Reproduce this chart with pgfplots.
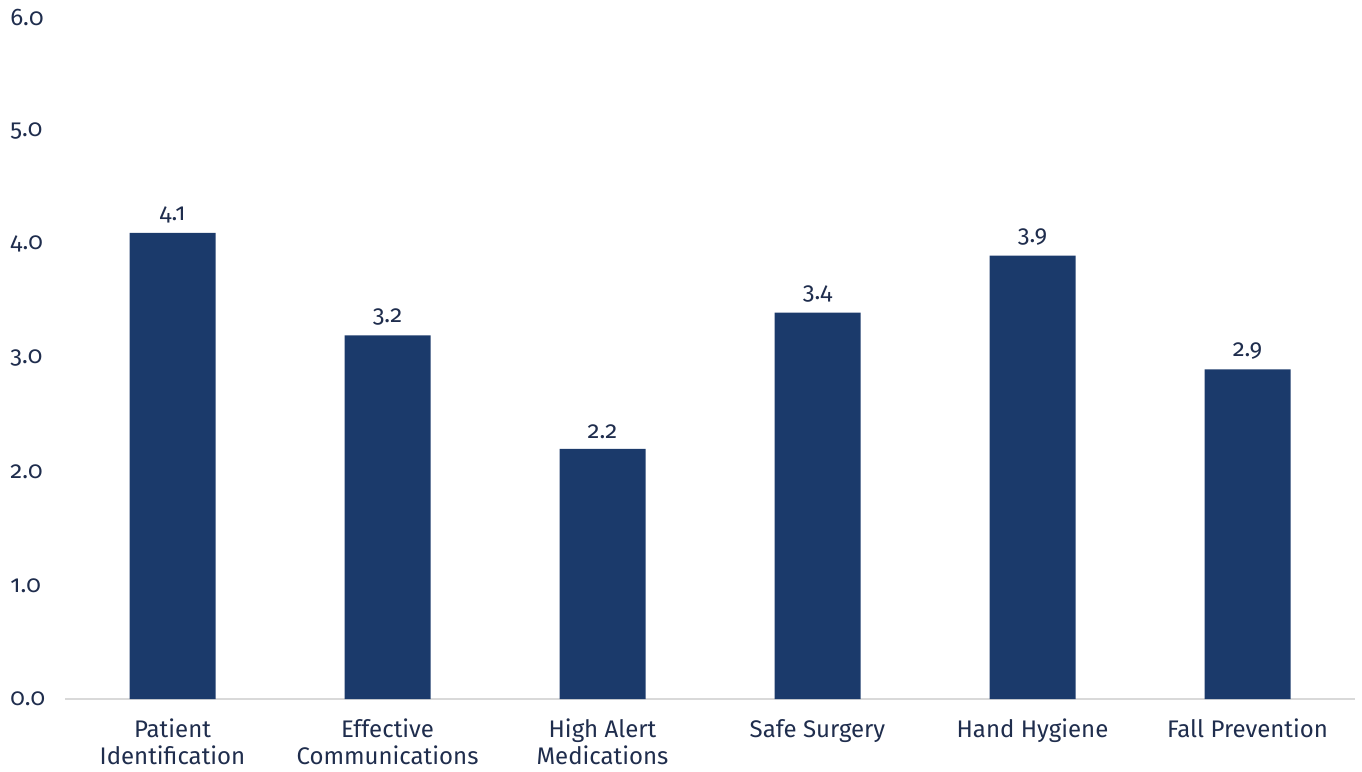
\documentclass[border=0pt]{standalone}
\usepackage{pgfplots}
\pgfplotsset{compat=1.18}
\usepackage{fontspec}
\setmainfont{Fira Sans}[Numbers=OldStyle]
\definecolor{barblue}{HTML}{1B3A6B}
\definecolor{txt}{HTML}{1F2D4D}
\definecolor{axgray}{HTML}{D9D9D9}
\begin{document}
\begin{tikzpicture}
\begin{axis}[
  scale only axis,
  width=645pt, height=341pt,
  xmin=-0.5, xmax=5.5,
  ymin=0, ymax=6,
  ytick={0,1,2,3,4,5,6},
  xtick=data,
  xticklabels={{Patient\\Identification},{Effective\\Communications},{High Alert\\Medications},{Safe Surgery},{Hand Hygiene},{Fall Prevention}},
  x tick label style={align=center, font=\fontsize{12}{13.5}\selectfont, text=txt, anchor=north, yshift=-6.5pt},
  y tick label style={font=\fontsize{12}{13.5}\selectfont, text=txt, anchor=west, inner sep=0pt, xshift=-27.5pt,
    /pgf/number format/fixed, /pgf/number format/fixed zerofill, /pgf/number format/precision=1},
  /pgf/number format/assume math mode=true,
  major tick length=0pt,
  axis x line*=bottom,
  axis y line*=left,
  y axis line style={draw=none},
  x axis line style={draw=axgray, line width=1pt},
  ybar, bar width=43pt,
  nodes near coords,
  nodes near coords style={font=\fontsize{12}{13.5}\selectfont, text=txt, yshift=1.5pt, /pgf/number format/fixed, /pgf/number format/fixed zerofill, /pgf/number format/precision=1, /pgf/number format/assume math mode=true},
  clip=false,
]
\addplot[fill=barblue, draw=none] coordinates {(0,4.1) (1,3.2) (2,2.2) (3,3.4) (4,3.9) (5,2.9)};
\coordinate (bl) at (rel axis cs:0,0);
\coordinate (tr) at (rel axis cs:1,1);
\end{axis}
\pgfresetboundingbox
\path[use as bounding box] ([xshift=-32.5pt,yshift=-36pt]bl) rectangle ([xshift=3.5pt,yshift=8.5pt]tr);
\end{tikzpicture}
\end{document}
